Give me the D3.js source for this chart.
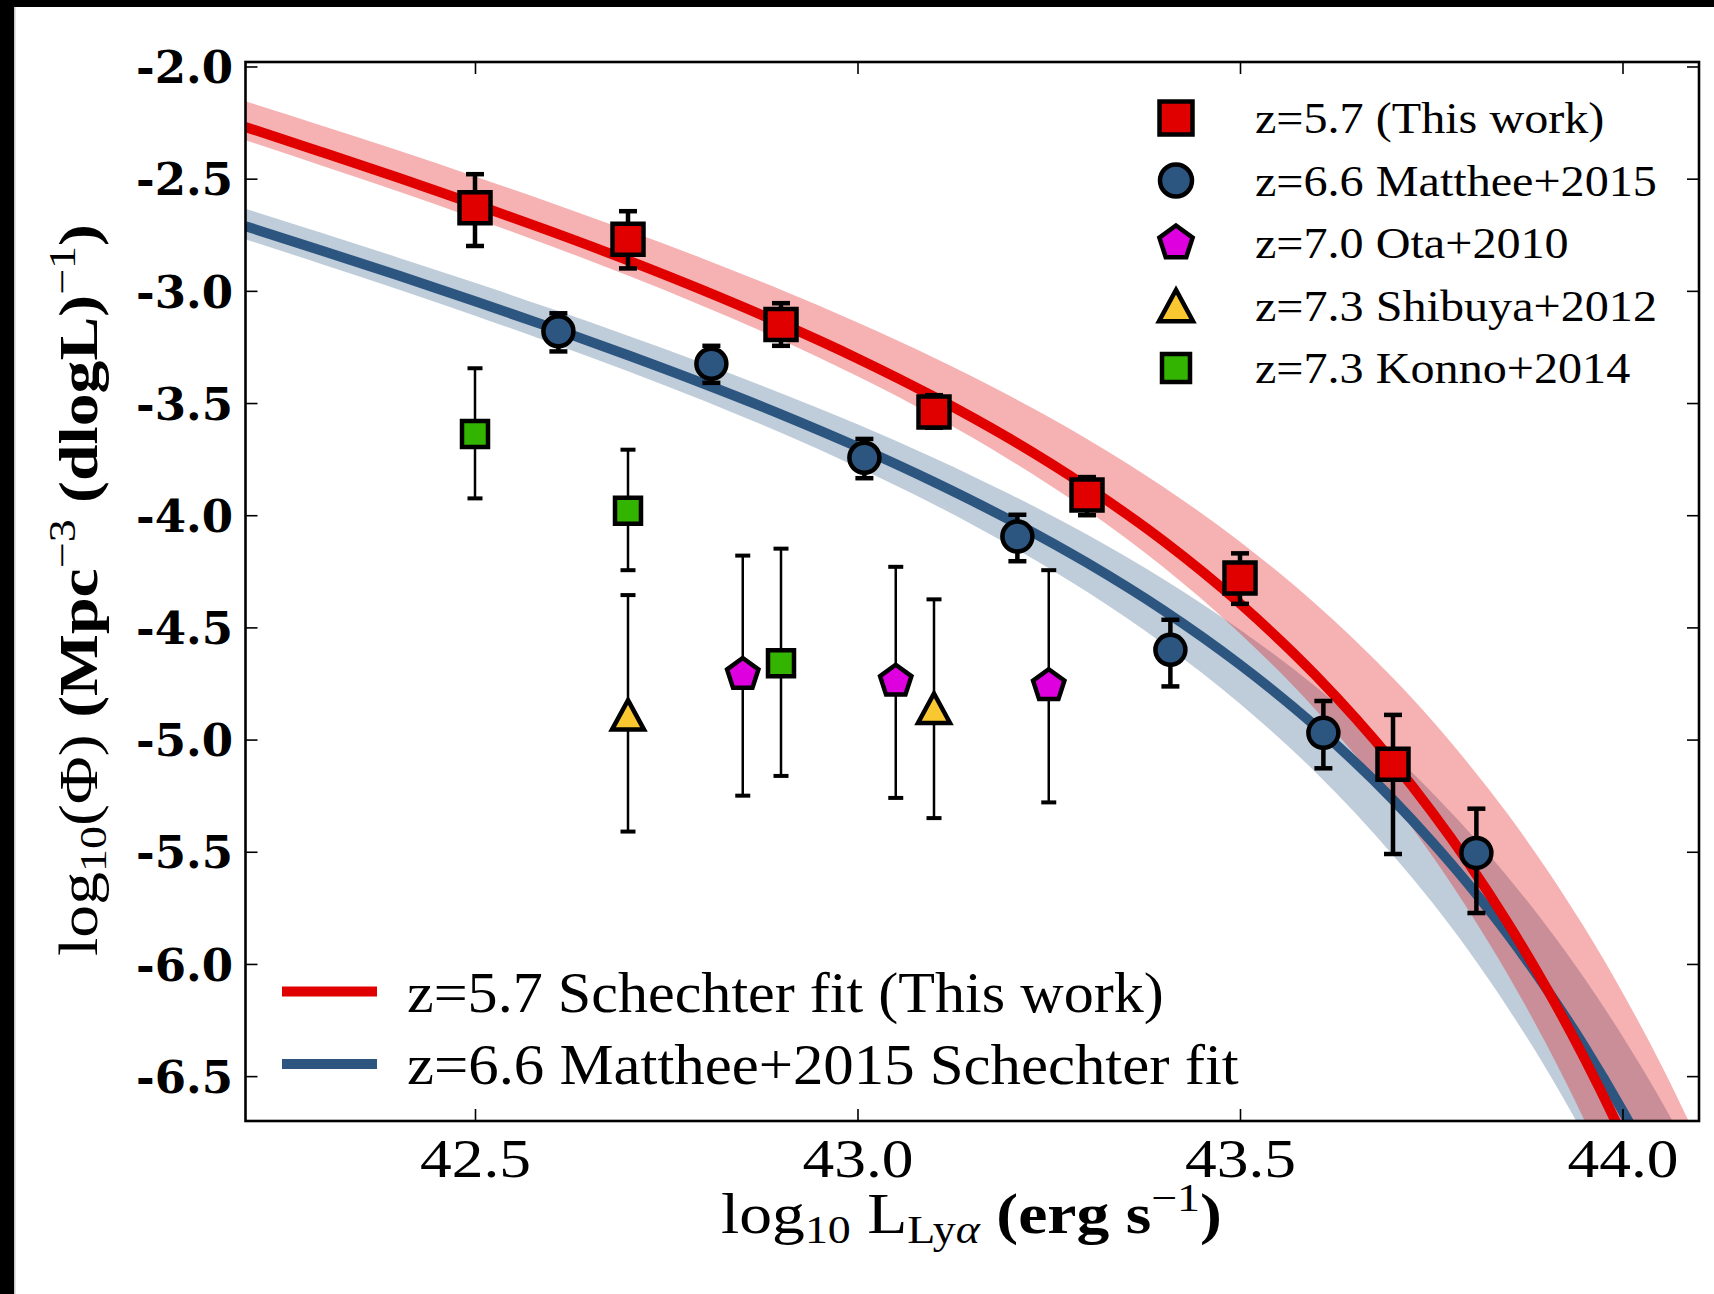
<!DOCTYPE html>
<html>
<head>
<meta charset="utf-8">
<script src="https://cdn.jsdelivr.net/npm/d3@7"></script>
<style>
  body { margin: 0; background: #fff; }
  svg { display: block; }
  text { white-space: pre; }
</style>
</head>
<body>
<svg id="chart" width="1714" height="1294"></svg>
<script>
// ---------------- DATA ----------------
const X_DOMAIN = [42.2, 44.1];
const Y_DOMAIN = [-1.98, -6.7];
const X_TICKS = [42.5, 43.0, 43.5, 44.0];
const Y_TICKS = [-2.0, -2.5, -3.0, -3.5, -4.0, -4.5, -5.0, -5.5, -6.0, -6.5];

// Schechter fit curves and their shaded bands
const FIT_L = [42.2, 42.3, 42.4, 42.5, 42.6, 42.7, 42.8, 42.9, 43.0, 43.1, 43.2, 43.3, 43.4, 43.5, 43.6, 43.7, 43.75, 43.8, 43.85, 43.9, 43.95, 44.0, 44.05, 44.1];
const RED_FIT    = [-2.270, -2.382, -2.496, -2.614, -2.736, -2.864, -3.000, -3.145, -3.301, -3.472, -3.661, -3.874, -4.115, -4.394, -4.718, -5.100, -5.318, -5.556, -5.817, -6.104, -6.419, -6.767, -7.152, -7.577];
const RED_FIT_HI = [-2.155, -2.264, -2.375, -2.490, -2.608, -2.731, -2.859, -2.995, -3.141, -3.298, -3.470, -3.660, -3.874, -4.118, -4.399, -4.726, -4.911, -5.113, -5.332, -5.573, -5.837, -6.127, -6.446, -6.798];
const RED_FIT_LO = [-2.329, -2.442, -2.557, -2.677, -2.801, -2.932, -3.071, -3.219, -3.381, -3.558, -3.756, -3.978, -4.232, -4.527, -4.871, -5.279, -5.512, -5.767, -6.047, -6.355, -6.695, -7.069, -7.484, -7.943];
const BLUE_FIT    = [-2.712, -2.821, -2.932, -3.046, -3.164, -3.287, -3.415, -3.550, -3.695, -3.852, -4.023, -4.212, -4.424, -4.666, -4.944, -5.268, -5.452, -5.651, -5.868, -6.107, -6.367, -6.654, -6.970, -7.318];
const BLUE_FIT_HI = [-2.634, -2.742, -2.852, -2.964, -3.080, -3.200, -3.325, -3.456, -3.595, -3.745, -3.908, -4.086, -4.285, -4.510, -4.767, -5.065, -5.232, -5.414, -5.612, -5.827, -6.063, -6.322, -6.606, -6.918];
const BLUE_FIT_LO = [-2.770, -2.881, -2.994, -3.111, -3.232, -3.358, -3.491, -3.633, -3.786, -3.952, -4.136, -4.341, -4.574, -4.840, -5.150, -5.515, -5.721, -5.947, -6.195, -6.466, -6.765, -7.093, -7.456, -7.857];

// z=5.7 (This work)
const Z57_L   = [42.5, 42.7, 42.9, 43.1, 43.3, 43.5, 43.7];
const Z57_PHI = [-2.63, -2.77, -3.15, -3.54, -3.91, -4.28, -5.11];
const Z57_HI  = [-2.48, -2.645, -3.055, -3.465, -3.83, -4.17, -4.89];
const Z57_LO  = [-2.80, -2.90, -3.245, -3.61, -4.00, -4.395, -5.51];
// z=6.6 Matthee+2015
const Z66_L   = [42.609, 42.809, 43.009, 43.209, 43.409, 43.609, 43.809];
const Z66_PHI = [-3.18, -3.325, -3.744, -4.095, -4.60, -4.97, -5.505];
const Z66_HI  = [-3.10, -3.245, -3.66, -3.998, -4.466, -4.828, -5.308];
const Z66_LO  = [-3.27, -3.41, -3.835, -4.205, -4.763, -5.128, -5.773];
// z=7.0 Ota+2010
const Z70_L   = [42.85, 43.05, 43.25];
const Z70_PHI = [-4.71, -4.74, -4.76];
const Z70_HI  = [-4.18, -4.23, -4.245];
const Z70_LO  = [-5.25, -5.26, -5.28];
// z=7.3 Shibuya+2012
const Z73S_L   = [42.7, 43.1];
const Z73S_PHI = [-4.89, -4.86];
const Z73S_HI  = [-4.356, -4.375];
const Z73S_LO  = [-5.41, -5.35];
// z=7.3 Konno+2014
const Z73K_L   = [42.5, 42.7, 42.9];
const Z73K_PHI = [-3.638, -3.98, -4.66];
const Z73K_HI  = [-3.345, -3.708, -4.149];
const Z73K_LO  = [-3.925, -4.245, -5.162];

const LEGEND_POINTS = ["z=5.7 (This work)", "z=6.6 Matthee+2015", "z=7.0 Ota+2010", "z=7.3 Shibuya+2012", "z=7.3 Konno+2014"];
const LEGEND_FITS = ["z=5.7 Schechter fit (This work)", "z=6.6 Matthee+2015 Schechter fit"];

// ---------------- STYLE ----------------
const RED = "#e00000", BLUE = "#2c5580", MAGENTA = "#de00de", YELLOW = "#f9c730", GREEN = "#32b400";
const SERIF = "'Liberation Serif', 'Times New Roman', serif";

const svg = d3.select("#chart");
const W = 1714, H = 1294;
const M = { left: 245.5, right: 1699, top: 62, bottom: 1121 };

svg.append("rect").attr("width", W).attr("height", H).attr("fill", "#fff");
svg.append("rect").attr("x", 0).attr("y", 0).attr("width", 14).attr("height", H).attr("fill", "#000");
svg.append("rect").attr("x", 14).attr("y", 7).attr("width", 1.5).attr("height", H).attr("fill", "#c8c8c8");
svg.append("rect").attr("x", 0).attr("y", 0).attr("width", W).attr("height", 7).attr("fill", "#000");

const x = d3.scaleLinear().domain(X_DOMAIN).range([M.left, M.right]);
const y = d3.scaleLinear().domain(Y_DOMAIN).range([M.top, M.bottom]);

svg.append("defs").append("clipPath").attr("id", "plotclip")
  .append("rect").attr("x", M.left).attr("y", M.top)
  .attr("width", M.right - M.left).attr("height", M.bottom - M.top);

const plot = svg.append("g").attr("clip-path", "url(#plotclip)");

function bandPath(lo, hi) {
  return d3.area()
    .x((d, i) => x(FIT_L[i]))
    .y0((d, i) => y(lo[i]))
    .y1((d, i) => y(hi[i]))
    .curve(d3.curveMonotoneX)(FIT_L);
}
function linePath(arr) {
  return d3.line()
    .x((d, i) => x(FIT_L[i]))
    .y((d, i) => y(arr[i]))
    .curve(d3.curveMonotoneX)(FIT_L);
}

plot.append("path").attr("d", bandPath(BLUE_FIT_LO, BLUE_FIT_HI)).attr("fill", BLUE).attr("fill-opacity", 0.3);
plot.append("path").attr("d", bandPath(RED_FIT_LO, RED_FIT_HI)).attr("fill", RED).attr("fill-opacity", 0.3);
plot.append("path").attr("d", linePath(BLUE_FIT)).attr("fill", "none").attr("stroke", BLUE).attr("stroke-width", 10);
plot.append("path").attr("d", linePath(RED_FIT)).attr("fill", "none").attr("stroke", RED).attr("stroke-width", 10);

// ---------------- markers ----------------
function markerPath(shape, s) {
  if (shape === "square") {
    const h = s / 2;
    return `M${-h},${-h}H${h}V${h}H${-h}Z`;
  }
  if (shape === "circle") {
    const r = s / 2;
    return `M${r},0A${r},${r} 0 1,1 ${-r},0A${r},${r} 0 1,1 ${r},0Z`;
  }
  if (shape === "pentagon") {
    const R = s / 2;
    const pts = d3.range(5).map(k => {
      const a = -Math.PI / 2 + k * 2 * Math.PI / 5;
      return [R * Math.cos(a), R * Math.sin(a)];
    });
    return "M" + pts.map(p => p.join(",")).join("L") + "Z";
  }
  if (shape === "triangle") {
    const w = s / 2, h = s * 0.46;
    return `M0,${-h}L${w},${h}L${-w},${h}Z`;
  }
}

const series = [
  { L: Z57_L, P: Z57_PHI, hi: Z57_HI, lo: Z57_LO, shape: "square", size: 31, fill: RED, ew: 4.5, cap: 18, capw: 4.5 },
  { L: Z66_L, P: Z66_PHI, hi: Z66_HI, lo: Z66_LO, shape: "circle", size: 30, fill: BLUE, ew: 4.5, cap: 18, capw: 4.5 },
  { L: Z70_L, P: Z70_PHI, hi: Z70_HI, lo: Z70_LO, shape: "pentagon", size: 33, fill: MAGENTA, ew: 2.5, cap: 15, capw: 4 },
  { L: Z73S_L, P: Z73S_PHI, hi: Z73S_HI, lo: Z73S_LO, shape: "triangle", size: 32, fill: YELLOW, ew: 2.5, cap: 15, capw: 4 },
  { L: Z73K_L, P: Z73K_PHI, hi: Z73K_HI, lo: Z73K_LO, shape: "square", size: 26, fill: GREEN, ew: 2.5, cap: 15, capw: 4 }
];

const marks = svg.append("g");
series.forEach(s => {
  const g = marks.append("g");
  s.L.forEach((l, i) => {
    const cx = x(l);
    g.append("line").attr("x1", cx).attr("x2", cx).attr("y1", y(s.hi[i])).attr("y2", y(s.lo[i]))
      .attr("stroke", "#000").attr("stroke-width", s.ew);
    [s.hi[i], s.lo[i]].forEach(v => {
      g.append("line").attr("x1", cx - s.cap / 2).attr("x2", cx + s.cap / 2)
        .attr("y1", y(v)).attr("y2", y(v)).attr("stroke", "#000").attr("stroke-width", s.capw);
    });
  });
  s.L.forEach((l, i) => {
    g.append("path").attr("d", markerPath(s.shape, s.size))
      .attr("transform", `translate(${x(l)},${y(s.P[i])})`)
      .attr("fill", s.fill).attr("stroke", "#000").attr("stroke-width", 4.5)
      .attr("stroke-linejoin", "miter");
  });
});

// ---------------- axes ----------------
function styleAxis(g) {
  g.select(".domain").remove();
  g.selectAll(".tick line").attr("stroke", "#000").attr("stroke-width", 1.6);
}
const xAxisB = svg.append("g").attr("transform", `translate(0,${M.bottom})`)
  .call(d3.axisBottom(x).tickValues(X_TICKS).tickSizeInner(-12).tickSizeOuter(0).tickFormat(d => d.toFixed(1)));
styleAxis(xAxisB);
xAxisB.selectAll(".tick text").attr("y", 56).attr("dy", null)
  .attr("font-family", SERIF).attr("font-size", 55).attr("fill", "#000");
{
  const n = xAxisB.select(".tick text").node();
  const sx = 111 / n.getComputedTextLength();
  xAxisB.selectAll(".tick text").attr("transform", `scale(${sx},1)`);
}
const xAxisT = svg.append("g").attr("transform", `translate(0,${M.top})`)
  .call(d3.axisTop(x).tickValues(X_TICKS).tickSizeInner(-12).tickSizeOuter(0).tickFormat(""));
styleAxis(xAxisT);

const yAxisL = svg.append("g").attr("transform", `translate(${M.left},0)`)
  .call(d3.axisLeft(y).tickValues(Y_TICKS).tickSizeInner(-12).tickSizeOuter(0).tickPadding(12.5).tickFormat(d => d.toFixed(1)));
styleAxis(yAxisL);
yAxisL.selectAll(".tick text").attr("dy", "0.36em")
  .attr("font-family", "'DejaVu Serif', serif").attr("font-weight", "bold")
  .attr("font-size", 45).attr("fill", "#000");
const yAxisR = svg.append("g").attr("transform", `translate(${M.right},0)`)
  .call(d3.axisRight(y).tickValues(Y_TICKS).tickSizeInner(-12).tickSizeOuter(0).tickFormat(""));
styleAxis(yAxisR);

svg.append("rect").attr("x", M.left).attr("y", M.top)
  .attr("width", M.right - M.left).attr("height", M.bottom - M.top)
  .attr("fill", "none").attr("stroke", "#000").attr("stroke-width", 2.6);

// ---------------- axis labels ----------------
function richText(parent, parts, size) {
  const t = parent.append("text").attr("font-family", SERIF).attr("font-size", size)
    .attr("fill", "#000").attr("text-anchor", "middle");
  let shift = 0;
  parts.forEach(p => {
    const ts = t.append("tspan").text(p.t);
    const target = p.sub ? size * 0.17 : (p.sup ? -size * 0.4 : 0);
    const dy = target - shift;
    if (dy !== 0) ts.attr("dy", dy);
    shift = target;
    if (p.sub || p.sup) ts.attr("font-size", size * 0.7);
    if (p.b) ts.attr("font-weight", "bold");
    if (p.i) ts.attr("font-style", "italic");
  });
  return t;
}

{
  const g = svg.append("g");
  const t = richText(g, [
    { t: "log" }, { t: "10", sub: true }, { t: "(Φ)" }, { t: " (Mpc", b: true },
    { t: "−3", sup: true }, { t: " (dlogL)", b: true }, { t: "−1", sup: true }, { t: ")", b: true }
  ], 54);
  const len = t.node().getComputedTextLength();
  g.attr("transform", `translate(97,590) rotate(-90) scale(${732 / len},1)`);
}
{
  const g = svg.append("g");
  const t = richText(g, [
    { t: "log" }, { t: "10", sub: true }, { t: " L" }, { t: "Ly", sub: true }, { t: "α", sub: true, i: true },
    { t: " (erg s", b: true }, { t: "−1", sup: true }, { t: ")", b: true }
  ], 56);
  const len = t.node().getComputedTextLength();
  g.attr("transform", `translate(971.5,1233) scale(${501 / len},1)`);
}

// ---------------- legends ----------------
const legRowsY = [118, 180.5, 243, 305.5, 368];
const legP = svg.append("g");
const pScale = 1.07;
series.forEach((s, i) => {
  legP.append("path").attr("d", markerPath(s.shape, s.size + 2))
    .attr("transform", `translate(1176,${legRowsY[i]})`)
    .attr("fill", s.fill).attr("stroke", "#000").attr("stroke-width", 4.5);
  legP.append("text").text(LEGEND_POINTS[i])
    .attr("transform", `translate(1255,${legRowsY[i] + 15}) scale(${pScale},1)`)
    .attr("font-family", SERIF).attr("font-size", 45).attr("fill", "#000");
});

const legF = svg.append("g");
const fitRowsY = [991.5, 1064];
const fitColors = [RED, BLUE];
const fitWidths = [757, 832];
LEGEND_FITS.forEach((lab, i) => {
  legF.append("line").attr("x1", 282).attr("x2", 377).attr("y1", fitRowsY[i]).attr("y2", fitRowsY[i])
    .attr("stroke", fitColors[i]).attr("stroke-width", 10);
  const t = legF.append("text").text(lab)
    .attr("font-family", SERIF).attr("font-size", 58).attr("fill", "#000");
  const sc = fitWidths[i] / t.node().getComputedTextLength();
  t.attr("transform", `translate(407,${fitRowsY[i] + 20}) scale(${sc},1)`);
});
</script>
</body>
</html>
